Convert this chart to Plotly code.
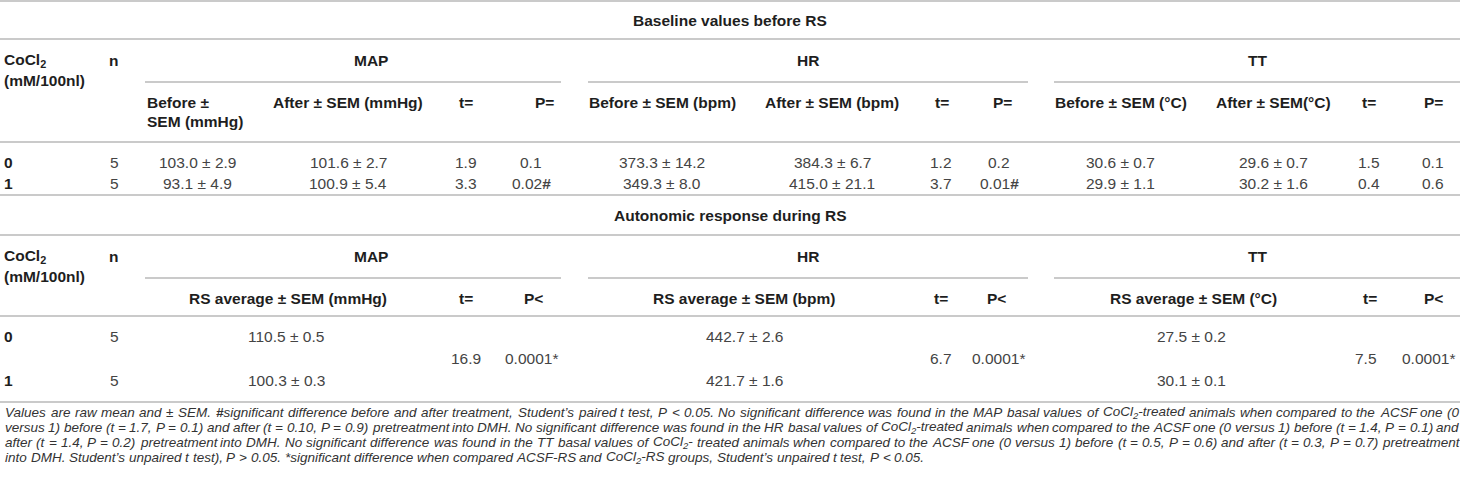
import re
import plotly.graph_objects as go

# ---------------- data ----------------
doses = ["0", "1"]
n_animals = [5, 5]

map_before_mean = [103.0, 93.1]
map_before_sem = [2.9, 4.9]
map_after_mean = [101.6, 100.9]
map_after_sem = [2.7, 5.4]
map_t = [1.9, 3.3]
map_p = ["0.1", "0.02#"]

hr_before_mean = [373.3, 349.3]
hr_before_sem = [14.2, 8.0]
hr_after_mean = [384.3, 415.0]
hr_after_sem = [6.7, 21.1]
hr_t = [1.2, 3.7]
hr_p = ["0.2", "0.01#"]

tt_before_mean = [30.6, 29.9]
tt_before_sem = [0.7, 1.1]
tt_after_mean = [29.6, 30.2]
tt_after_sem = [0.7, 1.6]
tt_t = [1.5, 0.4]
tt_p = ["0.1", "0.6"]

map_rs_mean = [110.5, 100.3]
map_rs_sem = [0.5, 0.3]
hr_rs_mean = [442.7, 421.7]
hr_rs_sem = [2.6, 1.6]
tt_rs_mean = [27.5, 30.1]
tt_rs_sem = [0.2, 0.1]
rs_t = [16.9, 6.7, 7.5]
rs_p = ["0.0001*", "0.0001*", "0.0001*"]

groups = ["MAP", "HR", "TT"]
section_titles = ["Baseline values before RS", "Autonomic response during RS"]
dose_header = "CoCl<sub>2</sub>"
dose_unit = "(mM/100nl)"
n_header = "n"
sub_headers_1 = ["After ± SEM (mmHg)", "t=", "P=",
                 "Before ± SEM (bpm)", "After ± SEM (bpm)", "t=", "P=",
                 "Before ± SEM (°C)", "After ± SEM(°C)", "t=", "P="]
before_map_header = ["Before ±", "SEM (mmHg)"]
sub_headers_2 = ["RS average ± SEM (mmHg)", "t=", "P<",
                 "RS average ± SEM (bpm)", "t=", "P<",
                 "RS average ± SEM (°C)", "t=", "P<"]

footnote_lines = [
    "Values are raw mean and ± SEM. <b>#</b>significant difference before and after treatment, Student’s paired t test, P &lt; 0.05. No significant difference was found in the MAP basal values of CoCl<sub>2</sub>-treated animals when compared to the ACSF one (0",
    "versus 1) before (t = 1.7, P = 0.1) and after (t = 0.10, P = 0.9) pretreatment into DMH. No significant difference was found in the HR basal values of CoCl<sub>2</sub>-treated animals when compared to the ACSF one (0 versus 1) before (t = 1.4, P = 0.1) and",
    "after (t = 1.4, P = 0.2) pretreatment into DMH. No significant difference was found in the TT basal values of CoCl<sub>2</sub>- treated animals when compared to the ACSF one (0 versus 1) before (t = 0.5, P = 0.6) and after (t = 0.3, P = 0.7) pretreatment",
    "into DMH. Student’s unpaired t test), P &gt; 0.05. *significant difference when compared ACSF-RS and CoCl<sub>2</sub>-RS groups, Student’s unpaired t test, P &lt; 0.05.",
]
footnote_justified = [True, True, True, False]

# ---------------- style ----------------
W, H = 1460, 487
FONT = "Liberation Sans, Arial, sans-serif"
FS = 15.5
FN = 13.5
HEAD_C = "#1e1e1e"
VAL_C = "#444444"
LINE_C = "#b8b8b8"

fig = go.Figure()
fig.add_trace(go.Scatter(x=[0, W], y=[0, H], mode="markers",
                         marker=dict(opacity=0), hoverinfo="skip", showlegend=False))

ann = []


def txt(x, y, s, bold=False, anchor="center", color=None, size=FS, italic=False):
    if bold:
        s = "<b>" + s + "</b>"
    if italic:
        s = "<i>" + s + "</i>"
    ann.append(dict(x=x, y=y, xref="x", yref="y", text=s, showarrow=False,
                    xanchor=anchor, yanchor="middle",
                    font=dict(family=FONT, size=size,
                              color=color or (HEAD_C if bold else VAL_C))))


shapes = []


def hline(y, x0=0, x1=W, w=1.4, color=LINE_C):
    shapes.append(dict(type="line", xref="x", yref="y", x0=x0, x1=x1, y0=y, y1=y,
                       line=dict(color=color, width=w)))


def pm(m, s):
    return f"{m:.1f} ± {s:.1f}"


# Arial / Liberation Sans advance widths (per 1000 em), regular & italic
AW = {' ': 278, '!': 278, '"': 355, '#': 556, '$': 556, '%': 889, '&': 667, "'": 191,
      '(': 333, ')': 333, '*': 389, '+': 584, ',': 278, '-': 333, '.': 278, '/': 278,
      ':': 278, ';': 278, '<': 584, '=': 584, '>': 584, '?': 556, '@': 1015,
      'A': 667, 'B': 667, 'C': 722, 'D': 722, 'E': 667, 'F': 611, 'G': 778, 'H': 722,
      'I': 278, 'J': 500, 'K': 667, 'L': 556, 'M': 833, 'N': 722, 'O': 778, 'P': 667,
      'Q': 778, 'R': 722, 'S': 667, 'T': 611, 'U': 722, 'V': 667, 'W': 944, 'X': 667,
      'Y': 667, 'Z': 611, 'a': 556, 'b': 556, 'c': 500, 'd': 556, 'e': 556, 'f': 278,
      'g': 556, 'h': 556, 'i': 222, 'j': 222, 'k': 500, 'l': 222, 'm': 833, 'n': 556,
      'o': 556, 'p': 556, 'q': 556, 'r': 333, 's': 500, 't': 278, 'u': 556, 'v': 500,
      'w': 722, 'x': 500, 'y': 500, 'z': 500, '±': 584, '’': 222}
for d in "0123456789":
    AW[d] = 556


def word_width(word, size):
    w = 0.0
    scale = 1.0
    for tok in re.split(r"(<[^>]+>|&lt;|&gt;|&amp;)", word):
        if not tok:
            continue
        if tok == "<sub>":
            scale = 0.7
            continue
        if tok == "</sub>":
            scale = 1.0
            continue
        if tok.startswith("<") and tok.endswith(">"):
            continue
        if tok in ("&lt;", "&gt;"):
            w += 584 * scale
            continue
        for ch in tok:
            w += AW.get(ch, 556) * scale
    return w * size / 1000.0


group_x = [371, 808, 1257]
sub_spans = [(145, 561), (588, 1028), (1054, 1460)]
LX = 2

# ======== Section 1 ========
hline(1)
txt(730, 20, section_titles[0], bold=True)
hline(39)
txt(LX, 60, dose_header, bold=True, anchor="left")
txt(LX, 80, dose_unit, bold=True, anchor="left")
txt(113, 60, n_header, bold=True)
for g, gx in zip(groups, group_x):
    txt(gx, 60, g, bold=True)
for a, b in sub_spans:
    hline(82, a, b)
txt(145, 102, before_map_header[0], bold=True, anchor="left")
txt(145, 121, before_map_header[1], bold=True, anchor="left")
sub1_x = [348, 466, 544, 662, 832, 942, 1002, 1121, 1273, 1369, 1433]
for s, x in zip(sub_headers_1, sub1_x):
    txt(x, 102, s, bold=True)
hline(142, w=1.6)

row_y = [162, 183]
for i in range(2):
    y = row_y[i]
    txt(LX, y, doses[i], bold=True, anchor="left")
    txt(114, y, str(n_animals[i]))
    txt(197, y, pm(map_before_mean[i], map_before_sem[i]))
    txt(348, y, pm(map_after_mean[i], map_after_sem[i]))
    txt(466, y, f"{map_t[i]:.1f}")
    txt(531, y, map_p[i].replace("#", "<b>#</b>"))
    txt(662, y, pm(hr_before_mean[i], hr_before_sem[i]))
    txt(832, y, pm(hr_after_mean[i], hr_after_sem[i]))
    txt(941, y, f"{hr_t[i]:.1f}")
    txt(999, y, hr_p[i].replace("#", "<b>#</b>"))
    txt(1120, y, pm(tt_before_mean[i], tt_before_sem[i]))
    txt(1273, y, pm(tt_after_mean[i], tt_after_sem[i]))
    txt(1369, y, f"{tt_t[i]:.1f}")
    txt(1433, y, tt_p[i])
hline(195)

# ======== Section 2 ========
txt(730, 215, section_titles[1], bold=True)
hline(235)
txt(LX, 256, dose_header, bold=True, anchor="left")
txt(LX, 276, dose_unit, bold=True, anchor="left")
txt(113, 256, n_header, bold=True)
for g, gx in zip(groups, group_x):
    txt(gx, 256, g, bold=True)
for a, b in sub_spans:
    hline(278, a, b)
sub2_x = [288, 466, 533, 744, 941, 996, 1193, 1370, 1433]
for s, x in zip(sub_headers_2, sub2_x):
    txt(x, 298, s, bold=True)
hline(316, w=1.6)

row2_y = [336, 380]
rs_means = [map_rs_mean, hr_rs_mean, tt_rs_mean]
rs_sems = [map_rs_sem, hr_rs_sem, tt_rs_sem]
rs_val_x = [286, 744, 1191]
for i in range(2):
    y = row2_y[i]
    txt(LX, y, doses[i], bold=True, anchor="left")
    txt(114, y, str(n_animals[i]))
    for k in range(3):
        txt(rs_val_x[k], y, pm(rs_means[k][i], rs_sems[k][i]))
tp_x = [(466, 531), (941, 998), (1366, 1428)]
for k in range(3):
    txt(tp_x[k][0], 358, f"{rs_t[k]:.1f}")
    txt(tp_x[k][1], 358, rs_p[k])
hline(402)

# ======== Footnote (justified) ========
foot_y = [412, 427, 442, 457]
FX0, FX1 = 3, 1457
space_w = AW[' '] * FN / 1000.0
for line, y, just in zip(footnote_lines, foot_y, footnote_justified):
    words = line.split(" ")
    widths = [word_width(wd, FN) for wd in words]
    if just and len(words) > 1:
        gap = (FX1 - FX0 - sum(widths)) / (len(words) - 1)
    else:
        gap = space_w
    x = FX0
    for wd, wv in zip(words, widths):
        txt(x, y, wd, anchor="left", size=FN, italic=True, color="#333333")
        x += wv + gap

fig.update_layout(
    width=W, height=H,
    margin=dict(l=0, r=0, t=0, b=0),
    paper_bgcolor="white", plot_bgcolor="white",
    xaxis=dict(range=[0, W], visible=False, fixedrange=True),
    yaxis=dict(range=[H, 0], visible=False, fixedrange=True),
    annotations=ann, shapes=shapes, showlegend=False,
)
fig.write_html("out.html", config={"displayModeBar": False},
               post_script="document.body.style.margin='0';document.body.style.overflow='hidden';")
